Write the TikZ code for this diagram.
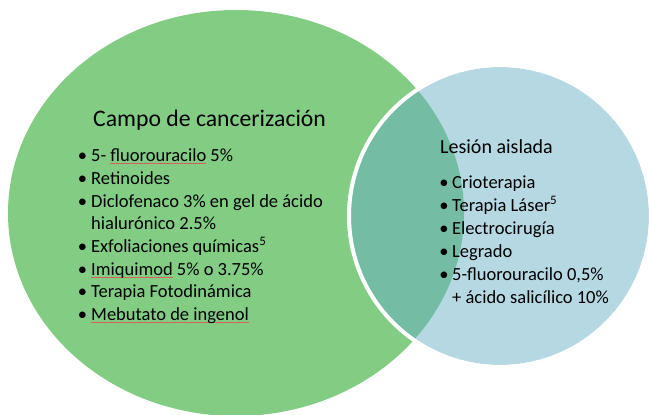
\documentclass[tikz,border=0pt]{standalone}
\usepackage{fontspec}
\setmainfont{Carlito}
\definecolor{vgreen}{RGB}{130,204,132}
\definecolor{vblue}{RGB}{181,216,227}
\definecolor{vmix}{RGB}{116,189,164}
\definecolor{spellred}{RGB}{214,96,96}
\newcommand\spellmark[1]{\setbox0\hbox{#1}\rlap{\color{spellred}\rule[-2.6pt]{\wd0}{0.6pt}}\box0\relax}
\newcommand\bulL{\llap{•\kern4.2pt}}
\newcommand\bulR{\llap{•\kern3.6pt}}
\begin{document}
\begin{tikzpicture}[x=1pt,y=-1pt,
  item/.style={anchor=base west, inner sep=0pt, font=\fontsize{18.5}{22}\selectfont},
  headL/.style={anchor=base west, inner sep=0pt, font=\fontsize{23.7}{28}\selectfont},
  headR/.style={anchor=base west, inner sep=0pt, font=\fontsize{20}{24}\selectfont}]
\useasboundingbox (0,0) rectangle (649,415);
% circles
\fill[vgreen] (236,213) ellipse [x radius=228pt, y radius=203pt];
\fill[vblue] (500,216) circle [radius=149pt];
\begin{scope}
  \clip (500,216) circle [radius=149pt];
  \fill[vmix] (236,213) ellipse [x radius=228pt, y radius=203pt];
\end{scope}
\draw[white, line width=4pt] (500,216) circle [radius=151pt];
% left texts
\node[headL] (hL) at (93,126) {Campo de cancerización};
\node[item] (l1) at (91,161) {\bulL 5- \spellmark{fluorouracilo} 5\%};
\node[item] (l2) at (91,184) {\bulL Retinoides};
\node[item] (l3) at (91,207) {\bulL Diclofenaco 3\% en gel de ácido};
\node[item] (l3b) at (91,229) {hialurónico 2.5\%};
\node[item] (l4) at (91,252) {\bulL Exfoliaciones químicas\textsuperscript{5}};
\node[item] (l5) at (91,275) {\bulL \spellmark{Imiquimod} 5\% o 3.75\%};
\node[item] (l6) at (91,297) {\bulL Terapia Fotodinámica};
\node[item] (l7) at (91,320) {\bulL \spellmark{Mebutato de ingenol}};
% right texts
\node[headR] (hR) at (440,153) {Lesión aislada};
\node[item] (r1) at (452,188) {\bulR Crioterapia};
\node[item] (r2) at (452,211) {\bulR Terapia Láser\textsuperscript{5}};
\node[item] (r3) at (452,234) {\bulR Electrocirugía};
\node[item] (r4) at (452,257) {\bulR Legrado};
\node[item] (r5) at (452,280) {\bulR 5-fluorouracilo 0,5\%};
\node[item] (r5b) at (452,303) {+ ácido salicílico 10\%};
\end{tikzpicture}
\end{document}
